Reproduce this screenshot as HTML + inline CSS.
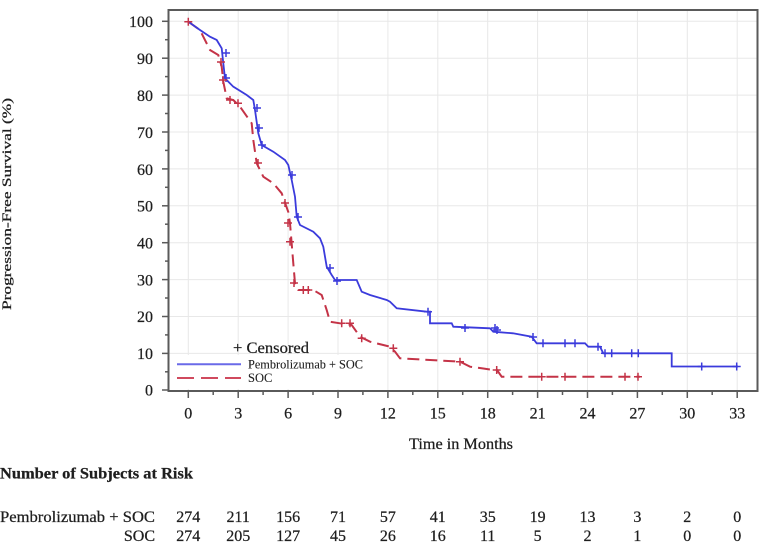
<!DOCTYPE html>
<html><head><meta charset="utf-8"><style>
html,body{margin:0;padding:0;background:#fff;}
svg{display:block;}
text{font-family:"Liberation Serif",serif;fill:#1e1e1e;stroke:#1e1e1e;stroke-width:0.25;}
</style></head><body>
<svg width="765" height="547" viewBox="0 0 765 547" xmlns="http://www.w3.org/2000/svg">
<rect width="765" height="547" fill="#fff"/>
<!-- grid -->
<g stroke="#e8e8e8" stroke-width="1">
<line x1="188.3" y1="11" x2="188.3" y2="390"/><line x1="238.2" y1="11" x2="238.2" y2="390"/><line x1="288.1" y1="11" x2="288.1" y2="390"/><line x1="338" y1="11" x2="338" y2="390"/><line x1="387.9" y1="11" x2="387.9" y2="390"/><line x1="437.8" y1="11" x2="437.8" y2="390"/><line x1="487.7" y1="11" x2="487.7" y2="390"/><line x1="537.6" y1="11" x2="537.6" y2="390"/><line x1="587.5" y1="11" x2="587.5" y2="390"/><line x1="637.4" y1="11" x2="637.4" y2="390"/><line x1="687.3" y1="11" x2="687.3" y2="390"/><line x1="737.2" y1="11" x2="737.2" y2="390"/>
<line x1="169" y1="21.3" x2="757" y2="21.3"/><line x1="169" y1="58.2" x2="757" y2="58.2"/><line x1="169" y1="95.1" x2="757" y2="95.1"/><line x1="169" y1="132" x2="757" y2="132"/><line x1="169" y1="168.9" x2="757" y2="168.9"/><line x1="169" y1="205.8" x2="757" y2="205.8"/><line x1="169" y1="242.7" x2="757" y2="242.7"/><line x1="169" y1="279.6" x2="757" y2="279.6"/><line x1="169" y1="316.5" x2="757" y2="316.5"/><line x1="169" y1="353.4" x2="757" y2="353.4"/>
</g>
<!-- legend background -->
<rect x="170" y="355" width="200" height="34" fill="#fff"/>
<!-- frame -->
<rect x="168.5" y="10" width="589" height="381" fill="none" stroke="#5a5a5a" stroke-width="2"/>
<!-- y ticks -->
<g stroke="#5a5a5a" stroke-width="1.5">
<line x1="162" y1="21.3" x2="168" y2="21.3"/><line x1="162" y1="58.2" x2="168" y2="58.2"/><line x1="162" y1="95.1" x2="168" y2="95.1"/><line x1="162" y1="132" x2="168" y2="132"/><line x1="162" y1="168.9" x2="168" y2="168.9"/><line x1="162" y1="205.8" x2="168" y2="205.8"/><line x1="162" y1="242.7" x2="168" y2="242.7"/><line x1="162" y1="279.6" x2="168" y2="279.6"/><line x1="162" y1="316.5" x2="168" y2="316.5"/><line x1="162" y1="353.4" x2="168" y2="353.4"/><line x1="162" y1="390" x2="168" y2="390"/>
<line x1="165" y1="39.7" x2="168" y2="39.7"/><line x1="165" y1="76.6" x2="168" y2="76.6"/><line x1="165" y1="113.5" x2="168" y2="113.5"/><line x1="165" y1="150.4" x2="168" y2="150.4"/><line x1="165" y1="187.3" x2="168" y2="187.3"/><line x1="165" y1="224.2" x2="168" y2="224.2"/><line x1="165" y1="261.1" x2="168" y2="261.1"/><line x1="165" y1="298" x2="168" y2="298"/><line x1="165" y1="334.9" x2="168" y2="334.9"/><line x1="165" y1="371.8" x2="168" y2="371.8"/>
</g>
<!-- x ticks -->
<g stroke="#5a5a5a" stroke-width="1.5">
<line x1="188.3" y1="392" x2="188.3" y2="398"/><line x1="238.2" y1="392" x2="238.2" y2="398"/><line x1="288.1" y1="392" x2="288.1" y2="398"/><line x1="338" y1="392" x2="338" y2="398"/><line x1="387.9" y1="392" x2="387.9" y2="398"/><line x1="437.8" y1="392" x2="437.8" y2="398"/><line x1="487.7" y1="392" x2="487.7" y2="398"/><line x1="537.6" y1="392" x2="537.6" y2="398"/><line x1="587.5" y1="392" x2="587.5" y2="398"/><line x1="637.4" y1="392" x2="637.4" y2="398"/><line x1="687.3" y1="392" x2="687.3" y2="398"/><line x1="737.2" y1="392" x2="737.2" y2="398"/>
<line x1="213.2" y1="392" x2="213.2" y2="395"/><line x1="263.1" y1="392" x2="263.1" y2="395"/><line x1="313" y1="392" x2="313" y2="395"/><line x1="362.9" y1="392" x2="362.9" y2="395"/><line x1="412.8" y1="392" x2="412.8" y2="395"/><line x1="462.7" y1="392" x2="462.7" y2="395"/><line x1="512.6" y1="392" x2="512.6" y2="395"/><line x1="562.5" y1="392" x2="562.5" y2="395"/><line x1="612.4" y1="392" x2="612.4" y2="395"/><line x1="662.3" y1="392" x2="662.3" y2="395"/><line x1="712.2" y1="392" x2="712.2" y2="395"/>
</g>
<!-- y tick labels -->
<g font-size="16" text-anchor="end">
<text x="153" y="27">100</text><text x="153" y="64">90</text><text x="153" y="101">80</text><text x="153" y="138">70</text><text x="153" y="175">60</text><text x="153" y="211.5">50</text><text x="153" y="248.5">40</text><text x="153" y="285.5">30</text><text x="153" y="322">20</text><text x="153" y="359">10</text><text x="153" y="395.5">0</text>
</g>
<!-- x tick labels -->
<g font-size="16" text-anchor="middle">
<text x="188.3" y="418.5">0</text><text x="238.2" y="418.5">3</text><text x="288.1" y="418.5">6</text><text x="338" y="418.5">9</text><text x="387.9" y="418.5">12</text><text x="437.8" y="418.5">15</text><text x="487.7" y="418.5">18</text><text x="537.6" y="418.5">21</text><text x="587.5" y="418.5">24</text><text x="637.4" y="418.5">27</text><text x="687.3" y="418.5">30</text><text x="737.2" y="418.5">33</text>
</g>
<text x="409" y="449" font-size="16" textLength="104" lengthAdjust="spacingAndGlyphs">Time in Months</text>
<text transform="translate(11,310) rotate(-90)" font-size="12.5" textLength="212" lengthAdjust="spacingAndGlyphs">Progression-Free Survival (%)</text>

<!-- SOC curve -->
<polyline fill="none" stroke="#c43347" stroke-width="2" stroke-dasharray="12,6" points="188.3,21.7 200,30 203.3,36.7 210,50 218.3,55 221.7,66.7 223.3,81.7 226.7,98.3 233.3,100 240,106.7 251.7,123.3 253.3,140 256.7,163.3 263.3,176.7 273.3,183.3 281.7,193.3 288.3,212 290,223.3 293.3,263.3 295,283.3 298.3,290 313.3,290 321.7,295 326.7,310 330,321.7 340,323.3 351.7,325 360,336.7 370,341.7 390,346.7 395,351.7 400,358.3 460,361.7 470,366.7 483.3,368.5 493.3,370 497,370 501.7,376.7 640,376.7"/>
<!-- Pembro curve -->
<polyline fill="none" stroke="#3b3bdc" stroke-width="1.8" points="188.3,21.7 200,30 210,36.7 216.7,40 221.7,48.3 223.3,63.3 225,78.3 233.3,86.7 246.7,95 253.3,100 255,110 258.3,133.3 261.7,145 273.3,151.7 285,160 288.3,165 291.7,180 295,196.7 296.7,216.7 300,225 313.3,231.7 320,238.3 323.3,246.7 326.7,266.7 331.7,275 335,280 356.7,280 361.7,291.7 370,295 386.7,300 390,301.7 396.7,308.3 426.7,311.7 430,311.7 430,323.3 451.7,323.3 453.3,326.7 490,328.3 493.3,331.7 513,333.3 531.7,336.7 536.7,343.3 585,343.3 588.3,346.7 600,346.7 603.3,353.3 671.7,353.3 671.7,366.5 738,366.5"/>

<!-- censor marks -->
<g stroke="#3b3bdc" stroke-width="1.5" fill="none">
<path d="M222,53h8M226,49v8 M222,78h8M226,74v8 M253,108h8M257,104v8 M255,128h8M259,124v8 M258,145h8M262,141v8 M288,175h8M292,171v8 M294,217h8M298,213v8 M326,268h8M330,264v8 M333,281h8M337,277v8 M424,311.7h8M428,307.7v8 M461,328h8M465,324v8 M491,328h8M495,324v8 M493,330h8M497,326v8 M529,337h8M533,333v8 M539,343.3h8M543,339.3v8 M561,343.3h8M565,339.3v8 M571,343.3h8M575,339.3v8 M594,346.7h8M598,342.7v8 M601,353.3h8M605,349.3v8 M607.7,353.3h8M611.7,349.3v8 M627.7,353.3h8M631.7,349.3v8 M634.3,353.3h8M638.3,349.3v8 M697.7,366.5h8M701.7,362.5v8 M732.7,366.5h8M736.7,362.5v8"/>
</g>
<g stroke="#c43347" stroke-width="1.5" fill="none">
<path d="M184.3,21.7h8M188.3,17.7v8 M217,62h8M221,58v8 M219,80h8M223,76v8 M226,100h8M230,96v8 M234,103.3h8M238,99.3v8 M254,163h8M258,159v8 M281,203h8M285,199v8 M284,223h8M288,219v8 M286,241.7h8M290,237.7v8 M290,283h8M294,279v8 M299.3,290h8M303.3,286v8 M304.3,290h8M308.3,286v8 M337.7,323.3h8M341.7,319.3v8 M346,323.3h8M350,319.3v8 M357.7,338.3h8M361.7,334.3v8 M389.3,348.3h8M393.3,344.3v8 M456,361.7h8M460,357.7v8 M492.7,370h8M496.7,366v8 M537.7,376.7h8M541.7,372.7v8 M561,376.7h8M565,372.7v8 M621,376.7h8M625,372.7v8 M634,376.7h8M638,372.7v8"/>
</g>

<!-- legend -->
<text x="233" y="353" font-size="16" textLength="76" lengthAdjust="spacingAndGlyphs">+ Censored</text>
<line x1="177" y1="364.3" x2="241" y2="364.3" stroke="#6a6ae8" stroke-width="2"/>
<text x="248" y="368.5" font-size="12.5" textLength="115" lengthAdjust="spacingAndGlyphs" style="stroke-width:0.1">Pembrolizumab + SOC</text>
<line x1="177" y1="378" x2="241" y2="378" stroke="#d04a5e" stroke-width="2" stroke-dasharray="17,7"/>
<text x="248" y="382" font-size="12.5" style="stroke-width:0.1">SOC</text>

<!-- at risk table -->
<text x="0" y="478.5" font-size="16" font-weight="bold" textLength="193" lengthAdjust="spacingAndGlyphs">Number of Subjects at Risk</text>
<text x="0" y="522" font-size="16" textLength="155" lengthAdjust="spacingAndGlyphs">Pembrolizumab + SOC</text>
<text x="155" y="541" font-size="16" text-anchor="end">SOC</text>
<g font-size="16" text-anchor="middle">
<text x="188.3" y="522">274</text><text x="238.2" y="522">211</text><text x="288.1" y="522">156</text><text x="338" y="522">71</text><text x="387.9" y="522">57</text><text x="437.8" y="522">41</text><text x="487.7" y="522">35</text><text x="537.6" y="522">19</text><text x="587.5" y="522">13</text><text x="637.4" y="522">3</text><text x="687.3" y="522">2</text><text x="737.2" y="522">0</text>
<text x="188.3" y="541">274</text><text x="238.2" y="541">205</text><text x="288.1" y="541">127</text><text x="338" y="541">45</text><text x="387.9" y="541">26</text><text x="437.8" y="541">16</text><text x="487.7" y="541">11</text><text x="537.6" y="541">5</text><text x="587.5" y="541">2</text><text x="637.4" y="541">1</text><text x="687.3" y="541">0</text><text x="737.2" y="541">0</text>
</g>
</svg>
</body></html>
